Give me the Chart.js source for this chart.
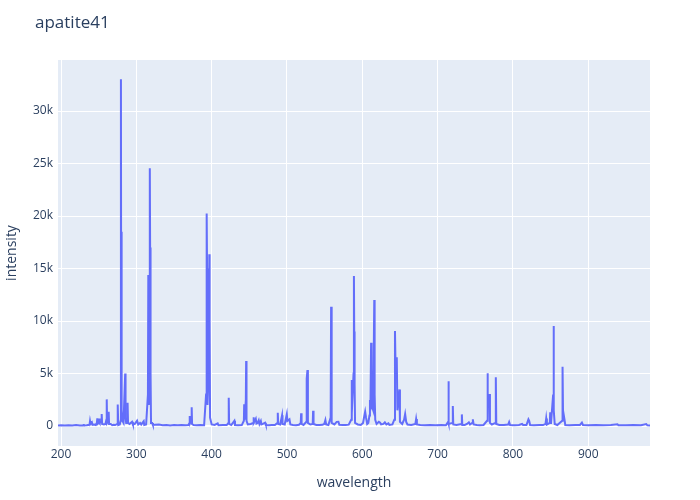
<!DOCTYPE html>
<html>
<head>
<meta charset="utf-8">
<script src="https://cdn.jsdelivr.net/npm/chart.js@4/dist/chart.umd.min.js"></script>
<style>
  html, body { margin: 0; padding: 0; background: #ffffff; }
  #c { display: block; }
</style>
</head>
<body>
<canvas id="c" width="700" height="500"></canvas>
<script>
const chartTitle = 'apatite41';
const xTitle = 'wavelength';
const yTitle = 'intensity';
const xTickValues = [200, 300, 400, 500, 600, 700, 800, 900];
const yTickValues = [0, 5000, 10000, 15000, 20000, 25000, 30000];

const wavelength = [
  196, 200, 205, 210, 215, 220, 225, 229.6, 230, 230.4, 234, 237.8, 238.5, 239.2, 241, 241.8, 244, 246,
  247.6, 248.2, 248.8, 250.5, 251, 251.6, 253.5, 254, 254.6, 257, 259, 260.2, 260.7, 261.2, 262.8, 263.3,
  263.8, 266, 268, 270, 272, 274.5, 275.3, 276, 278, 279.2, 279.55, 279.9, 280.27, 280.7, 281.5, 283,
  285.2, 285.7, 286.5, 287.8, 288.4, 289, 291, 294.3, 295.5, 298, 301, 302.5, 305, 306.5, 309.8, 310.5,
  313, 315.4, 315.9, 316.3, 316.8, 317.5, 317.9, 318.3, 318.9, 319.5, 321, 322, 325, 330, 335, 340, 345,
  350, 355, 360, 365, 369, 370.6, 370.9, 371.4, 373.1, 373.5, 374, 376, 380, 385, 390, 392.6, 393.4,
  393.9, 394.5, 396.4, 396.9, 397.3, 397.9, 400, 404, 408, 409, 415, 420, 422.2, 422.7, 423.2, 426,
  430.2, 431, 435, 440, 442.8, 443.2, 443.8, 445.4, 445.8, 446.3, 448, 452, 455, 455.4, 456.2, 458.6,
  459.5, 461, 462.5, 463.5, 465.3, 466.2, 468, 471, 472, 476, 480, 484, 487.3, 487.8, 488.4, 491, 493.5,
  494.1, 497, 499.8, 500.6, 503.3, 504.5, 508, 512, 516, 518.3, 518.8, 519.4, 522, 525.7, 526.2, 527.2,
  527.8, 531, 534.2, 534.7, 535.3, 539, 543, 547, 549.5, 551, 552, 555, 558, 558.6, 559.1, 559.6, 563,
  566, 568.3, 569.5, 574, 578, 582, 585.3, 585.8, 586.3, 588.4, 588.9, 589.3, 589.8, 590.4, 594, 598,
  601, 602.5, 603.8, 605, 606.5, 608, 609.5, 610.2, 610.8, 611.7, 612.3, 614.5, 615.9, 616.4, 617.2,
  619, 622, 623.7, 625, 628, 630, 632, 634.7, 636, 640, 642.5, 643.4, 644.3, 645.8, 646.6, 649.3, 650,
  653, 655.5, 656.9, 658.3, 660, 665, 670.5, 671.5, 672.5, 677, 683, 690, 697, 705, 711, 713.9, 714.4,
  714.9, 719.7, 720.2, 720.8, 725, 731.7, 732.2, 732.8, 736, 739, 741.5, 743, 745.8, 746.8, 747.8, 752,
  756, 761, 765.6, 766.2, 766.8, 768.9, 769.5, 772, 776.8, 777.3, 777.9, 782, 788, 793.8, 795, 796.2,
  802, 808, 812.2, 813.5, 818, 820.6, 821.6, 822.8, 828, 835, 840, 843.3, 844.2, 845.1, 849, 849.5,
  850.5, 853.4, 853.9, 854.5, 855.5, 859, 865.4, 865.9, 866.5, 868.5, 869.5, 875, 883, 889, 891.6, 893,
  900, 910, 920, 930, 938.8, 940, 950, 960, 970, 977, 978.5, 982
];

const intensity = [
  60, 80, 50, 70, 60, 90, 60, 70, 190, 60, 80, 120, 480, 200, 350, 120, 150, 100,
  300, 730, 250, 400, 730, 300, 400, 1140, 200, 150, 200, 600, 2540, 300, 500, 1360,
  200, 200, 80, 120, 100, 200, 2060, 100, 150, 500, 33020, 7000, 18500, 1500, 500, 300,
  5000, 800, 300, 300, 2220, 300, 200, 410, 150, 200, 500, 150, 300, 150, 450, 100,
  150, 3000, 14380, 9000, 2000, 5000, 24540, 17000, 5000, 300, 300, 100, 120, 150, 80, 100, 60,
  90, 70, 100, 80, 100, 300, 950, 300, 600, 1780, 200, 100, 70, 90, 80, 3000, 20250,
  15000, 2000, 6000, 16350, 10000, 800, 150, 100, 250, 80, 100, 90, 300, 2700, 200, 100,
  500, 100, 80, 90, 500, 2070, 600, 2500, 6200, 500, 150, 200, 300, 830, 300, 700,
  250, 300, 550, 200, 480, 150, 200, 320, 100, 80, 100, 90, 300, 1270, 200, 150, 1020,
  200, 150, 1140, 500, 640, 150, 100, 80, 120, 300, 1210, 200, 100, 400, 4500, 5330,
  300, 150, 200, 1460, 200, 100, 90, 120, 200, 570, 150, 100, 800, 11360, 3000, 300, 150,
  400, 410, 120, 100, 90, 130, 600, 4380, 1200, 5000, 14290, 9000, 4000, 300, 150, 100,
  300, 900, 1370, 800, 200, 300, 1000, 2480, 1500, 7940, 2000, 1500, 12000, 3000, 600,
  200, 400, 320, 150, 200, 350, 150, 250, 100, 150, 600, 9050, 5000, 6540, 1500, 3490, 400,
  200, 600, 1140, 400, 150, 100, 200, 670, 150, 100, 80, 100, 70, 90, 80, 400, 4260,
  200, 300, 1900, 150, 100, 200, 1110, 100, 100, 200, 350, 150, 300, 640, 150, 100,
  80, 100, 500, 5020, 2000, 3050, 300, 150, 300, 4640, 200, 100, 90, 150, 380, 100,
  80, 100, 200, 100, 100, 640, 500, 100, 80, 100, 90, 200, 730, 150, 300, 1300,
  200, 3000, 9520, 1500, 200, 100, 500, 5650, 1500, 600, 100, 80, 100, 100, 320, 100,
  80, 90, 70, 100, 160, 70, 80, 90, 80, 190, 70, 60
];

const points = wavelength.map((w, i) => ({ x: w, y: intensity[i] }));

const FONT = '"Open Sans", "Liberation Sans", sans-serif';
const TXT = '#2a3f5f';

const bgPlugin = {
  id: 'plotBg',
  beforeDraw(chart) {
    const { ctx, chartArea: a } = chart;
    ctx.save();
    ctx.fillStyle = '#E5ECF6';
    ctx.fillRect(a.left, a.top, a.right - a.left, a.bottom - a.top);
    ctx.restore();
  },
  afterDraw(chart) {
    const { ctx } = chart;
    ctx.save();
    ctx.fillStyle = TXT;
    ctx.font = '17px ' + FONT;
    ctx.textAlign = 'left';
    ctx.textBaseline = 'middle';
    ctx.fillText(chartTitle, 35, 23);
    ctx.restore();
  }
};

new Chart(document.getElementById('c'), {
  type: 'line',
  data: {
    datasets: [{
      data: points,
      borderColor: '#636efa',
      borderWidth: 2,
      pointRadius: 0,
      tension: 0,
      fill: false
    }]
  },
  options: {
    responsive: false,
    devicePixelRatio: 1,
    animation: false,
    parsing: true,
    layout: { padding: { left: 0, right: 50, top: 60, bottom: 0 } },
    plugins: { legend: { display: false }, tooltip: { enabled: false }, title: { display: false } },
    scales: {
      x: {
        type: 'linear',
        min: 196,
        max: 982,
        afterBuildTicks(s) { s.ticks = xTickValues.map(v => ({ value: v })); },
        afterFit(s) { s.height = 54; },
        grid: { color: '#ffffff', lineWidth: 1, drawTicks: false },
        border: { display: false },
        ticks: { color: TXT, font: { family: FONT, size: 12 }, padding: 1, maxRotation: 0 },
        title: { display: true, text: xTitle, color: TXT, font: { family: FONT, size: 14 }, padding: { top: 0, bottom: 9 } }
      },
      y: {
        type: 'linear',
        min: -1900,
        max: 34860,
        afterBuildTicks(s) { s.ticks = yTickValues.map(v => ({ value: v })); },
        afterFit(s) { s.width = 58; },
        grid: {
          color: '#ffffff',
          lineWidth: (c) => (c.tick && c.tick.value === 0 ? 2 : 1),
          drawTicks: false
        },
        border: { display: false },
        ticks: {
          color: TXT,
          font: { family: FONT, size: 12 },
          padding: 5,
          callback: (v) => (v === 0 ? '0' : (v / 1000) + 'k')
        },
        title: { display: true, text: yTitle, color: TXT, font: { family: FONT, size: 14 }, padding: { top: 4, bottom: 0 } }
      }
    }
  },
  plugins: [bgPlugin]
});
</script>
</body>
</html>
